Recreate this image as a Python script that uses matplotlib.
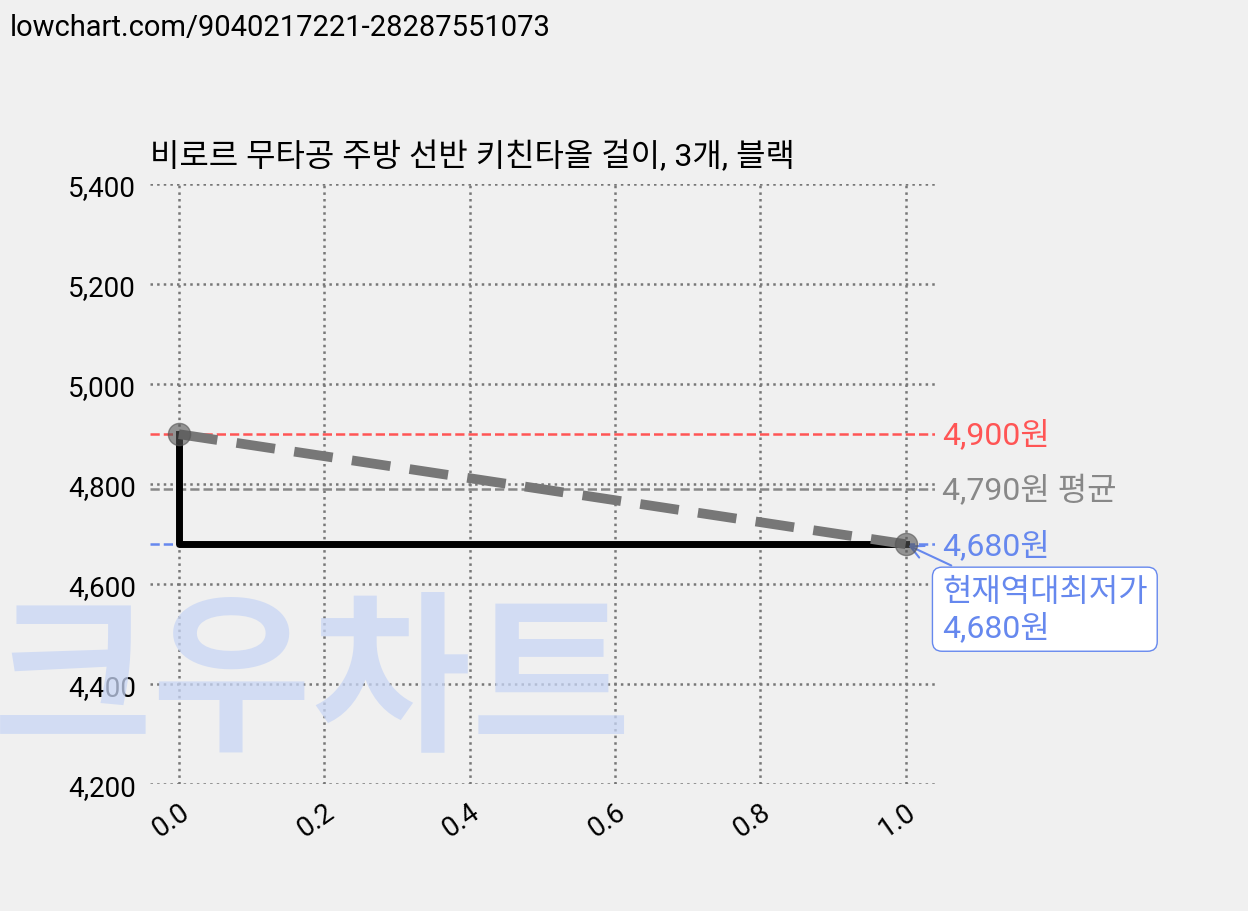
import matplotlib
matplotlib.use("Agg")
import matplotlib.pyplot as plt

plt.rcParams['font.family'] = ['Roboto', 'Noto Sans CJK KR', 'DejaVu Sans']

x_vals = [0.0, 1.0]
prices = [4900, 4680]
max_price = 4900
avg_price = 4790
min_price = 4680
title = "비로르 무타공 주방 선반 키친타올 걸이, 3개, 블랙"
yticks = [4200, 4400, 4600, 4800, 5000, 5200, 5400]
xticks = [0.0, 0.2, 0.4, 0.6, 0.8, 1.0]

fig = plt.figure(figsize=(12.48, 9.12), dpi=100, facecolor='#f0f0f0')
ax = fig.add_axes([0.120, 0.139, 0.629, 0.658])
ax.set_facecolor('#f0f0f0')
for s in ax.spines.values():
    s.set_visible(False)

ax.set_xlim(-0.04, 1.04)
ax.set_ylim(4200, 5400)
ax.set_yticks(yticks)
ax.set_yticklabels([f"{v:,}" for v in yticks], fontsize=20)
ax.set_xticks(xticks)
ax.set_xticklabels([f"{v:.1f}" for v in xticks], fontsize=20, rotation=35, ha='right', rotation_mode='anchor')
ax.tick_params(length=0, pad=10)
ax.grid(True, color='#777777', linestyle=':', linewidth=1.8)

fig.text(0.25, 0.245, "크우차트", fontsize=125, color='#c8d6f5', alpha=0.75, weight='black',
         ha='center', va='center', zorder=0)

ax.axhline(max_price, color='#ff5555', linestyle='--', linewidth=1.8)
ax.axhline(avg_price, color='#888888', linestyle='--', linewidth=1.8)
ax.axhline(min_price, color='#6688ee', linestyle='--', linewidth=1.8)

ax.plot([x_vals[0], x_vals[0], x_vals[1]], [prices[0], prices[1], prices[1]], color='black', linewidth=5, zorder=3)
ax.plot(x_vals, prices, color='#777777', linestyle='--', linewidth=7, dashes=(4, 2),
        marker='o', markersize=16, markerfacecolor='#55555599', markeredgecolor='#55555599', zorder=4)

ax.text(1.05, max_price, f"{max_price:,}원", color='#ff5555', fontsize=23, va='center', clip_on=False)
ax.text(1.05, avg_price, f"{avg_price:,}원 평균", color='#888888', fontsize=23, va='center', clip_on=False)
ax.text(1.05, min_price, f"{min_price:,}원", color='#6688ee', fontsize=23, va='center', clip_on=False)

ax.annotate(f"현재역대최저가\n{min_price:,}원", xy=(1.0, min_price), xytext=(1.05, 4550),
            color='#6688ee', fontsize=23, va='center', ha='left', annotation_clip=False,
            bbox=dict(boxstyle='round,pad=0.3', fc='white', ec='#6688ee'),
            arrowprops=dict(arrowstyle='->', color='#6688ee', lw=1.5))

ax.set_title(title, fontsize=23, loc='left', x=0.0, pad=14)
fig.text(0.008, 0.985, "lowchart.com/9040217221-28287551073", fontsize=21, va='top', ha='left')

fig.savefig("out.png", dpi=100, facecolor=fig.get_facecolor())
